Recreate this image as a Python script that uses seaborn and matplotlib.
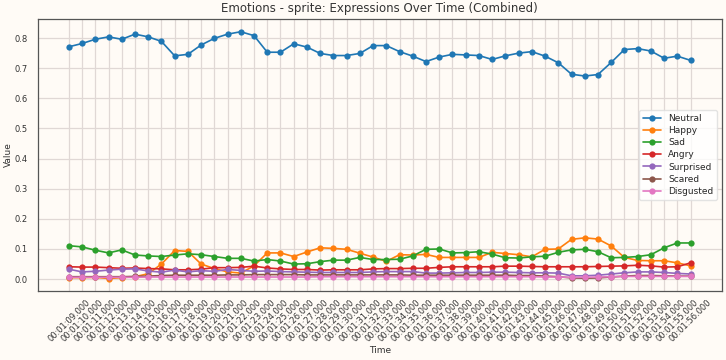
import matplotlib
matplotlib.use("Agg")
import matplotlib.pyplot as plt
import pandas as pd
import seaborn as sns

# time stamps 00:01:09 .. 00:01:56
times = ["00:01:%02d.000" % s for s in range(9, 57)]

neutral = [0.771, 0.782, 0.796, 0.804, 0.796, 0.813, 0.804, 0.789, 0.741, 0.746,
           0.777, 0.799, 0.813, 0.821, 0.808, 0.753, 0.753, 0.781, 0.770, 0.749,
           0.742, 0.742, 0.749, 0.775, 0.775, 0.755, 0.740, 0.722, 0.737, 0.746,
           0.744, 0.742, 0.729, 0.741, 0.750, 0.755, 0.740, 0.718, 0.680, 0.674,
           0.679, 0.719, 0.762, 0.765, 0.757, 0.733, 0.740, 0.726]
happy = [0.005, 0.005, 0.006, 0.002, 0.005, 0.008, 0.018, 0.050, 0.095, 0.092,
         0.050, 0.035, 0.024, 0.020, 0.044, 0.087, 0.087, 0.075, 0.090, 0.104,
         0.102, 0.099, 0.086, 0.073, 0.059, 0.081, 0.080, 0.082, 0.072, 0.072,
         0.072, 0.072, 0.089, 0.085, 0.081, 0.074, 0.099, 0.100, 0.132, 0.137,
         0.133, 0.110, 0.072, 0.062, 0.061, 0.061, 0.054, 0.044]
sad = [0.111, 0.107, 0.096, 0.087, 0.097, 0.080, 0.077, 0.075, 0.080, 0.084,
       0.081, 0.075, 0.069, 0.069, 0.060, 0.065, 0.060, 0.050, 0.051, 0.058,
       0.063, 0.063, 0.072, 0.065, 0.065, 0.066, 0.077, 0.099, 0.100, 0.087,
       0.088, 0.091, 0.083, 0.071, 0.070, 0.074, 0.076, 0.089, 0.097, 0.099,
       0.091, 0.071, 0.072, 0.075, 0.081, 0.104, 0.120, 0.120]
angry = [0.041, 0.040, 0.040, 0.038, 0.036, 0.037, 0.035, 0.034, 0.031, 0.031,
         0.033, 0.038, 0.038, 0.039, 0.043, 0.037, 0.034, 0.032, 0.032, 0.030,
         0.031, 0.031, 0.031, 0.034, 0.035, 0.035, 0.036, 0.036, 0.039, 0.041,
         0.041, 0.041, 0.041, 0.043, 0.043, 0.042, 0.041, 0.041, 0.041, 0.041,
         0.042, 0.043, 0.044, 0.046, 0.044, 0.040, 0.041, 0.054]
surprised = [0.033, 0.024, 0.026, 0.030, 0.033, 0.034, 0.027, 0.023, 0.030, 0.024,
             0.028, 0.026, 0.032, 0.029, 0.026, 0.027, 0.025, 0.024, 0.023, 0.022,
             0.022, 0.022, 0.022, 0.024, 0.025, 0.025, 0.025, 0.020, 0.020, 0.021,
             0.022, 0.022, 0.023, 0.023, 0.022, 0.021, 0.021, 0.020, 0.011, 0.011,
             0.013, 0.017, 0.021, 0.024, 0.024, 0.022, 0.019, 0.017]
scared = [0.008, 0.008, 0.008, 0.008, 0.008, 0.009, 0.010, 0.012, 0.013, 0.013,
          0.013, 0.013, 0.014, 0.014, 0.015, 0.015, 0.015, 0.015, 0.014, 0.014,
          0.014, 0.014, 0.014, 0.014, 0.014, 0.014, 0.013, 0.013, 0.013, 0.013,
          0.013, 0.013, 0.013, 0.013, 0.012, 0.012, 0.010, 0.008, 0.004, 0.003,
          0.004, 0.007, 0.010, 0.012, 0.012, 0.011, 0.010, 0.010]
disgusted = [0.006, 0.006, 0.006, 0.006, 0.006, 0.006, 0.007, 0.007, 0.007, 0.007,
             0.007, 0.007, 0.007, 0.007, 0.007, 0.007, 0.007, 0.007, 0.007, 0.008,
             0.008, 0.008, 0.008, 0.008, 0.008, 0.008, 0.008, 0.008, 0.008, 0.008,
             0.008, 0.008, 0.008, 0.008, 0.008, 0.008, 0.007, 0.007, 0.006, 0.006,
             0.007, 0.008, 0.009, 0.009, 0.009, 0.009, 0.009, 0.009]

emotions = ["Neutral", "Happy", "Sad", "Angry", "Surprised", "Scared", "Disgusted"]
series = [neutral, happy, sad, angry, surprised, scared, disgusted]

df = pd.DataFrame({"Time": times})
for name, vals in zip(emotions, series):
    df[name] = vals
long_df = df.melt(id_vars="Time", var_name="Emotion", value_name="Value")

bg = "#fffbf6"
sns.set_theme(style="whitegrid", rc={
    "figure.facecolor": bg, "axes.facecolor": bg,
    "grid.color": "#e0d8d5", "grid.linewidth": 0.9,
    "axes.edgecolor": "#555555", "axes.linewidth": 0.9,
})
plt.rcParams["font.family"] = ["DejaVu Sans"]

fig, ax = plt.subplots(figsize=(7.26, 3.6), dpi=100)
sns.lineplot(data=long_df, x="Time", y="Value", hue="Emotion", style="Emotion",
             markers=["o"] * 7, dashes=False, palette="tab10", linewidth=1.2,
             markersize=4.5, markeredgewidth=0, sort=False, ax=ax)

ax.set_title("Emotions - sprite: Expressions Over Time (Combined)", fontsize=8.5,
             color="#333333", pad=5)
ax.set_xlabel("Time", fontsize=6.5, color="#333333", labelpad=2)
ax.set_ylabel("Value", fontsize=6.5, color="#333333", labelpad=1)
ax.set_ylim(-0.039, 0.863)
ax.set_yticks([0.0, 0.1, 0.2, 0.3, 0.4, 0.5, 0.6, 0.7, 0.8])
ax.tick_params(axis="both", labelsize=6, colors="#333333", length=3.5, width=0.6)
ax.tick_params(axis="x", rotation=45, pad=1.5)
ax.margins(x=0.05)

handles, labels = ax.get_legend_handles_labels()
ax.legend(handles, labels, loc="center right", fontsize=6.5, frameon=True,
          facecolor="white", edgecolor="#dddddd", borderpad=0.4, labelspacing=0.35)

fig.subplots_adjust(left=0.052, right=0.994, top=0.947, bottom=0.192)
fig.savefig("out.png", dpi=100, facecolor=bg)
